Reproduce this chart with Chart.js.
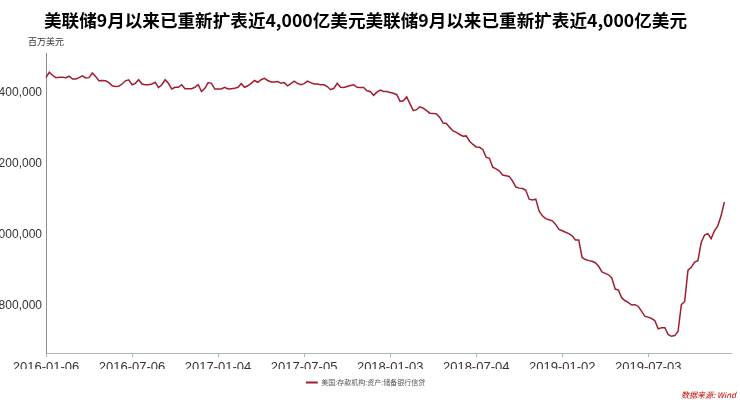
<!DOCTYPE html>
<html>
<head>
<meta charset="utf-8">
<script src="https://cdn.jsdelivr.net/npm/chart.js@4"></script>
<style>
  html, body { margin: 0; padding: 0; background: #fff; }
  #wrap { width: 740px; height: 400px; overflow: hidden; }
</style>
</head>
<body>
<div id="wrap"><canvas id="mycanvas" width="740" height="400"></canvas></div>
<script>
// weekly series, Wednesdays starting 2016-01-06 (百万美元)
var startDate = '2016-01-06';
var weekCount = 208; // axis runs a little past the last value

var reserveCredit = [
    4443000, 4458000, 4449000, 4443000, 4444000, 4444000, 4443000, 4447000, 4439000, 4439000,
    4443000, 4448000, 4442000, 4443000, 4456000, 4446000, 4434000, 4435000, 4434000, 4429000,
    4420000, 4418000, 4419000, 4425000, 4434000, 4437000, 4423000, 4427000, 4437000, 4425000,
    4423000, 4423000, 4425000, 4430000, 4415000, 4423000, 4437000, 4427000, 4411000, 4416000,
    4416000, 4423000, 4412000, 4412000, 4412000, 4416000, 4423000, 4404000, 4413000, 4429000,
    4427000, 4411000, 4411000, 4411000, 4416000, 4411000, 4412000, 4413000, 4416000, 4426000,
    4416000, 4420000, 4427000, 4435000, 4430000, 4437000, 4441000, 4435000, 4431000, 4431000,
    4432000, 4427000, 4429000, 4420000, 4426000, 4433000, 4427000, 4423000, 4426000, 4433000,
    4429000, 4425000, 4425000, 4423000, 4423000, 4418000, 4409000, 4413000, 4427000, 4416000,
    4415000, 4418000, 4421000, 4423000, 4416000, 4415000, 4415000, 4406000, 4404000, 4393000,
    4402000, 4408000, 4404000, 4404000, 4401000, 4399000, 4395000, 4376000, 4378000, 4389000,
    4369000, 4350000, 4353000, 4361000, 4357000, 4350000, 4343000, 4342000, 4341000, 4331000,
    4315000, 4314000, 4303000, 4293000, 4289000, 4283000, 4278000, 4279000, 4264000, 4255000,
    4248000, 4247000, 4241000, 4219000, 4216000, 4191000, 4186000, 4180000, 4169000, 4167000,
    4165000, 4152000, 4135000, 4132000, 4131000, 4126000, 4101000, 4099000, 4101000, 4068000,
    4054000, 4046000, 4043000, 4040000, 4030000, 4016000, 4012000, 4008000, 4004000, 3998000,
    3986000, 3986000, 3937000, 3931000, 3928000, 3926000, 3922000, 3912000, 3896000, 3892000,
    3888000, 3879000, 3848000, 3845000, 3823000, 3815000, 3810000, 3803000, 3804000, 3799000,
    3785000, 3771000, 3769000, 3765000, 3759000, 3736000, 3739000, 3739000, 3720000, 3715000,
    3717000, 3729000, 3804000, 3813000, 3901000, 3909000, 3924000, 3928000, 3979000, 4000000,
    4004000, 3990000, 4012000, 4026000, 4054000, 4093000
];

var xTickLabels = ['2016-01-06', '2016-07-06', '2017-01-04', '2017-07-05',
                   '2018-01-03', '2018-07-04', '2019-01-02', '2019-07-03'];
var yTickValues = [3800000, 4000000, 4200000, 4400000];
var yMin = 3668000;
var yMax = 4512000;

var titleText = '美联储9月以来已重新扩表近4,000亿美元美联储9月以来已重新扩表近4,000亿美元';
var seriesName = '美国:存款机构:资产:储备银行信贷';
var unitText = '百万美元';
var sourceText = '数据来源: Wind';

// build the weekly date labels
var dates = [];
var d0 = new Date(startDate + 'T00:00:00Z');
for (var i = 0; i < weekCount; i++) {
    var d = new Date(d0.getTime() + i * 7 * 86400000);
    dates.push(d.toISOString().slice(0, 10));
}

var lineRed = '#a11d2f';

// unit label above the y axis and the source note in the corner
var extraText = {
    id: 'extraText',
    afterDraw: function(chart) {
        var ctx = chart.ctx;
        var area = chart.chartArea;
        ctx.save();
        ctx.font = '9px "Noto Sans CJK SC", sans-serif';
        ctx.fillStyle = '#333';
        ctx.textAlign = 'left';
        ctx.textBaseline = 'middle';
        ctx.fillText(unitText, area.left - 18, area.top - 12);

        ctx.font = 'italic 8px "Noto Sans CJK SC", sans-serif';
        ctx.fillStyle = '#c00000';
        ctx.textAlign = 'right';
        ctx.fillText(sourceText, chart.width - 4, chart.height - 5);
        ctx.restore();
    }
};

var chartdata = {
    labels: dates,
    datasets: [
        {
            label: seriesName,
            data: reserveCredit,
            borderColor: lineRed,
            backgroundColor: lineRed,
            borderWidth: 1.5,
            pointRadius: 0,
            tension: 0,
            fill: false
        }
    ]
};

var ctx = document.getElementById('mycanvas');
var lineChart = new Chart(ctx, {
    type: 'line',
    data: chartdata,
    plugins: [extraText],
    options: {
        responsive: false,
        animation: false,
        devicePixelRatio: 1,
        layout: {
            padding: { left: 0, right: 9, top: 0, bottom: 4 }
        },
        scales: {
            x: {
                type: 'category',
                offset: false,
                afterBuildTicks: function(scale) {
                    scale.ticks = xTickLabels.map(function(lab) {
                        return { value: dates.indexOf(lab) };
                    });
                },
                afterFit: function(scale) { scale.height = 16; },
                grid: {
                    display: true,
                    drawOnChartArea: false,
                    drawTicks: true,
                    tickLength: 4,
                    color: '#a9b8c0'
                },
                border: { display: true, color: '#a9b8c0', width: 1 },
                ticks: {
                    autoSkip: false,
                    maxRotation: 0,
                    padding: 3,
                    color: '#333',
                    font: { family: 'Liberation Sans, Arial, sans-serif', size: 13 }
                }
            },
            y: {
                min: yMin,
                max: yMax,
                afterBuildTicks: function(scale) {
                    scale.ticks = yTickValues.map(function(v) { return { value: v }; });
                },
                afterFit: function(scale) { scale.width = 46; },
                grid: { display: false, drawTicks: false },
                border: { display: true, color: '#8c8c8c', width: 1 },
                ticks: {
                    padding: 4,
                    color: '#333',
                    font: { family: 'Liberation Sans, Arial, sans-serif', size: 12 },
                    callback: function(value) {
                        return Number(value).toLocaleString('en-US');
                    }
                }
            }
        },
        plugins: {
            title: {
                display: true,
                text: titleText,
                color: '#000',
                font: { family: '"Noto Sans CJK SC", sans-serif', size: 17.6, weight: 'bold' },
                padding: { top: 10, bottom: 22 }
            },
            legend: {
                display: true,
                position: 'bottom',
                labels: {
                    boxWidth: 12,
                    boxHeight: 2,
                    padding: 10,
                    color: '#555',
                    font: { family: '"Noto Sans CJK SC", sans-serif', size: 7 },
                    generateLabels: function(chart) {
                        var items = Chart.defaults.plugins.legend.labels.generateLabels(chart);
                        items.forEach(function(it) { it.lineWidth = 0; });
                        return items;
                    }
                }
            },
            tooltip: { enabled: false }
        }
    }
});
</script>
</body>
</html>
